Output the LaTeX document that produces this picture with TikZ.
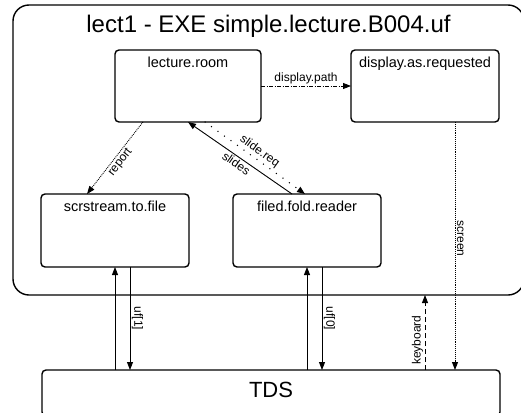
\documentclass[tikz,border=0pt]{standalone}
\usepackage{fontspec}
\setmainfont{Liberation Sans}
\usetikzlibrary{arrows.meta}
\begin{document}
\begin{tikzpicture}[x=1pt,y=-1pt,
  box/.style={draw, line width=1.4pt, rounded corners=4pt, outer sep=0pt, inner sep=0pt},
  boxtitle/.style={anchor=base, yshift=-17pt, font=\fontsize{14.5}{16}\selectfont, inner sep=0pt},
  flow/.style={line width=0.9pt, -{Triangle[length=8pt,width=6pt]}},
  tag/.style={font=\fontsize{12}{14}\selectfont, inner sep=1.5pt},
]
\useasboundingbox (0,0) rectangle (521,412);

% enclosing executable
\node[box, rounded corners=16pt, minimum width=511pt, minimum height=290pt,
  label={[anchor=base, yshift=-28pt, inner sep=0pt, font=\fontsize{24}{28}\selectfont]north:lect1 - EXE simple.lecture.B004.uf}]
  (exe) at (268.5,150) {};

% components
\node[box, minimum width=146pt, minimum height=72pt, label={[boxtitle]north:lecture.room}] (room) at (188,86) {};
\node[box, minimum width=148pt, minimum height=72pt, label={[boxtitle]north:display.as.requested}] (disp) at (425,86) {};
\node[box, minimum width=148pt, minimum height=73pt, label={[boxtitle]north:scrstream.to.file}] (scr) at (115,230.5) {};
\node[box, minimum width=148pt, minimum height=73pt, label={[boxtitle]north:filed.fold.reader}] (fold) at (307,230.5) {};
\node[box, minimum width=458pt, minimum height=46pt,
  label={[anchor=base, yshift=-27pt, inner sep=0pt, font=\fontsize{22}{26}\selectfont]north:TDS}] (tds) at (271,393) {};

% internal flows
\draw[flow, dash pattern=on 4pt off 1.5pt on 1pt off 1.5pt] (room.east) -- node[tag, above] {display.path} (disp.west);
\draw[flow, densely dotted] ([xshift=-45pt]room.south) -- node[tag, sloped, below] {report} ([xshift=-28pt]scr.north);
\draw[flow] ([xshift=-15pt]fold.north) -- node[tag, sloped, below] {slides} (room.south);
\draw[flow, line width=1.5pt, dash pattern=on 0pt off 8pt, line cap=round]
  ([xshift=17pt]room.south) -- node[tag, sloped, above] {slide.req} ([xshift=-2pt]fold.north);

% screen output to TDS
\coordinate (scrtop) at ([xshift=30pt]disp.south);
\draw[flow, densely dotted] (scrtop) -- node[tag, pos=0.47, rotate=-90, anchor=south] {screen} (scrtop |- tds.north);

% file units
\coordinate (uf1) at ([xshift=15pt]scr.south);
\draw[flow] (tds.north -| scr.south) -- (scr.south);
\draw[flow] (uf1) -- node[tag, rotate=-90, anchor=south] {uf[1]} (uf1 |- tds.north);
\coordinate (uf0) at ([xshift=15pt]fold.south);
\draw[flow] (tds.north -| fold.south) -- (fold.south);
\draw[flow] (uf0) -- node[tag, rotate=-90, anchor=south] {uf[0]} (uf0 |- tds.north);

% keyboard input
\draw[flow, dash pattern=on 5pt off 3pt] (disp.south |- tds.north) -- node[tag, pos=0.4, rotate=90, anchor=south] {keyboard} (disp.south |- exe.south);
\end{tikzpicture}
\end{document}
